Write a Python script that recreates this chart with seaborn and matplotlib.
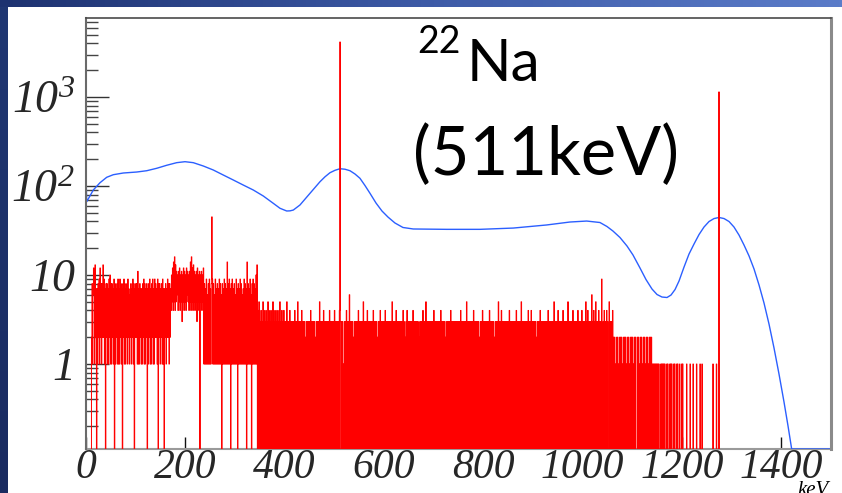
import numpy as np
import pandas as pd
import matplotlib
matplotlib.use("Agg")
import matplotlib.pyplot as plt
from matplotlib.colors import LinearSegmentedColormap
from matplotlib.ticker import LogLocator, NullFormatter, NullLocator
import seaborn as sns

# ---------------------------------------------------------------- axes ranges
x_min_kev, x_max_kev = 0, 1500
y_min, y_max = 0.111, 7720

xtick_values = [0, 200, 400, 600, 800, 1000, 1200, 1400]
xtick_labels = ["0", "200", "400", "600", "800", "1000", "1200", "1400"]
ytick_values = [1, 10, 100, 1000]
ytick_labels = ["1", "10", r"$10^{2}$", r"$10^{3}$"]

# ------------------------------------------------- smooth detector response
response_kev = [0, 1.4, 14.7, 28.2, 41.7, 55.0, 75.1, 102.1, 122.2, 142.3,
                162.5, 182.6, 199.3, 216.0, 236.2, 256.3, 276.4, 296.6, 316.7,
                336.8, 357.0, 377.1, 390.6, 404.1, 410.8, 417.4, 430.8, 451.0,
                471.1, 481.2, 491.2, 501.3, 511.4, 521.4, 531.5, 541.6, 551.6,
                561.7, 571.8, 583.9, 595.9, 608.0, 622.1, 638.2, 658.9, 726.2,
                793.2, 860.3, 927.5, 974.4, 1008.1, 1034.8, 1048.9, 1061.0,
                1075.1, 1089.2, 1101.3, 1115.4, 1127.5, 1139.6, 1149.7, 1159.7,
                1169.8, 1177.9, 1186.0, 1194.0, 1204.1, 1214.1, 1224.2, 1234.3,
                1244.3, 1254.4, 1264.5, 1274.5, 1284.6, 1294.7, 1304.7, 1314.8,
                1324.9, 1334.9, 1345.0, 1355.1, 1365.1, 1375.2, 1385.3, 1395.3,
                1405.4, 1413.5, 1420.8, 1500]
response_counts = [133, 66.6, 90.2, 108.9, 125.3, 134.0, 140.0, 143.6, 148.5,
                   158.1, 171.0, 182.9, 187.6, 182.9, 167.8, 151.3, 132.9,
                   116.8, 102.5, 90.2, 77.2, 63.9, 56.2, 52.4, 52.6, 53.7,
                   61.2, 82.8, 111.7, 126.9, 141.0, 150.1, 156.4, 154.4, 148.5,
                   136.4, 122.1, 101.3, 82.8, 64.4, 52.4, 44.8, 38.4, 34.2,
                   32.9, 32.6, 32.6, 33.7, 36.5, 39.4, 40.4, 38.9, 35.1, 31.2,
                   26.4, 21.2, 16.8, 12.0, 8.90, 6.96, 6.04, 5.66, 5.59, 5.96,
                   6.87, 8.56, 12.3, 17.2, 22.3, 28.5, 34.6, 39.9, 43.1, 44.3,
                   43.1, 39.9, 34.6, 28.1, 21.7, 16.4, 11.7, 7.72, 4.85, 2.81,
                   1.51, 0.772, 0.374, 0.201, 0.110, 0]

# ------------------------------------ measured spectrum, 1 keV per bin
# each segment: (first bin in keV, counts as one base-36 digit per bin)
seg_low = (11, "2816c91d27" "0718291c28" "182d291708" "2817192a18"
               "1827190817" "2819171928" "1708291817" "2819271628"
               "1729180728" "281b171827" "1718291817" "2807182917"
               "1829171928" "2719082817" "2819170728" "1729281827")
seg_bump = (171, "4a5c4e5g4d5b" "6a4b5c4a5b3a" "5c4b5a4c6b5a"
                 "4b5e4g5c4d5b" "4a5b3c4a5b0a" "5b4a5c")
seg_edge = (237, "1817191618" "1917180918" "1619171817" "1918160817"
                 "1918171e18" "1917081917" "1816191708" "1719181617"
                 "1918170e18" "1719160819" "18171a1d0")
seg_plateau = (346,
    "40503040305040304030504030403050403040304030503040"
    "30403030503030403030303040303050303030403030302030"
    "30303040303030302030303050303030403030303030403030"
    "30304030303030403030301030304030306030303020303030"
    "30403030303050303030403030303030403030302030304030"
    "30303040303030303030503030304030303030303040302030"
    "40303030303040303030303020303030403030503030303030"
    "30304030303030303040303030302030303030403030303030"
    "30303030403030303030503030303030304030303030302030"
    "30403030303030304030303030203030305030304030303030"
    "30303040303030303030403030303050303030303030403030"
    "40303030302030303040303030303030304030303030305030"
    "30304030303030403030303050303030304030303030403030"
    "30403030305030403030306030403050303040303090")
seg_fall = (1040, "0304003040300503003040")
seg_step = (1062, "2020102020" "1020202010" "2020201020" "2010202020"
                  "1020200020" "2010202010" "2020102020" "102020201")
seg_tail = (1141, "1010101010" "1010001010" "1010100010" "1000101010"
                  "0010100010" "1000100010" "10")
spectrum_segments = [seg_low, seg_bump, seg_edge, seg_plateau,
                     seg_fall, seg_step, seg_tail]

# isolated single counts above the Compton edge
sparse_kev = [1209, 1216, 1222, 1229, 1236, 1240, 1262, 1269]
sparse_counts = [1, 1, 1, 1, 1, 1, 1, 1]

# narrow lines
line_kev = [253, 511, 1274]
line_counts = [45, 4150, 1140]

counts = np.zeros(x_max_kev)
for start, digits in spectrum_segments:
    vals = [int(c, 36) for c in digits]
    counts[start:start + len(vals)] = vals
counts[sparse_kev] = sparse_counts
counts[line_kev] = line_counts

# ---------------------------------------------------------------- styling
sns.set_style("ticks")
plt.rcParams["mathtext.fontset"] = "custom"
plt.rcParams["mathtext.rm"] = "Liberation Serif:italic"
plt.rcParams["mathtext.it"] = "Liberation Serif:italic"

W, H = 842, 493
fig = plt.figure(figsize=(W / 100, H / 100), dpi=100)
fig.patch.set_facecolor("white")

# slide frame: gradient bars along the top and left edge
top_cmap = LinearSegmentedColormap.from_list("top", ["#1d3270", "#3d5aa6", "#5b7cc9"])
left_cmap = LinearSegmentedColormap.from_list("left", ["#203773", "#1a2b60"])
bar_top = fig.add_axes([0, 1 - 7 / H, 1, 7 / H])
bar_top.imshow(np.linspace(0, 1, 256)[None, :], aspect="auto", cmap=top_cmap)
bar_top.set_axis_off()
bar_left = fig.add_axes([0, 0, 8 / W, 1 - 7 / H])
bar_left.imshow(np.linspace(0, 1, 256)[:, None], aspect="auto", cmap=left_cmap)
bar_left.set_axis_off()

ax = fig.add_axes([86 / W, 1 - 449 / H, (831 - 86) / W, (449 - 18) / H])
ax.set_facecolor("white")
ax.set_yscale("log")

resp = pd.DataFrame({"keV": response_kev,
                     "counts": np.maximum(response_counts, y_min)})
sns.lineplot(data=resp, x="keV", y="counts", ax=ax, color="#2b5fff",
             lw=1.0, estimator=None, sort=False, zorder=2.1)

edges = np.append(np.arange(x_min_kev, x_max_kev), x_max_kev)
hist_counts = np.append(counts, 0)
hist = pd.DataFrame({"keV": edges,
                     "counts": np.where(hist_counts > 0, hist_counts, 1e-3)})
sns.lineplot(data=hist, x="keV", y="counts", ax=ax, color="#ff0000",
             lw=0.7, estimator=None, sort=False, drawstyle="steps-post",
             zorder=2.2)

ax.set_xlim(x_min_kev, x_max_kev)
ax.set_ylim(y_min, y_max)
ax.set_xlabel("")
ax.set_ylabel("")

tick_font = dict(fontfamily="Liberation Serif", fontstyle="italic")
ax.set_xticks(xtick_values, xtick_labels, fontsize=30, **tick_font)
ax.set_yticks(ytick_values, ytick_labels, fontsize=33, **tick_font)
ax.xaxis.set_minor_locator(NullLocator())
ax.yaxis.set_minor_locator(LogLocator(base=10, subs=np.arange(2, 10), numticks=30))
ax.yaxis.set_minor_formatter(NullFormatter())

ax.tick_params(axis="x", which="major", direction="in", length=8.6,
               width=1.0, color="#111111", pad=0, top=False)
ax.tick_params(axis="y", which="major", direction="in", length=16.5,
               width=1.0, color="#333333", pad=8, right=False)
ax.tick_params(axis="y", which="minor", direction="in", length=8.6,
               width=1.0, color="#444444", right=False)

for side, col, lw in [("left", "#6a6a6a", 1.5), ("top", "#4a4a4a", 1.2),
                      ("right", "#8a8a8a", 2.2), ("bottom", "#9a9a9a", 1.5)]:
    ax.spines[side].set_visible(True)
    ax.spines[side].set_color(col)
    ax.spines[side].set_linewidth(lw)
ax.spines["bottom"].set_zorder(2.0)

# unit label at the end of the energy axis
fig.text(829 / W, 1 - 481 / H, "keV", ha="right", va="top", fontsize=15,
         fontfamily="Liberation Serif", fontstyle="italic", color="black")

# source annotation
fig.text(417 / W, 1 - 53 / H, "22", ha="left", va="baseline", fontsize=27,
         fontfamily="Lato", color="black")
fig.text(467 / W, 1 - 81 / H, "Na", ha="left", va="baseline", fontsize=42,
         fontfamily="Lato", color="black")
fig.text(413 / W, 1 - 175 / H, "(511keV)", ha="left", va="baseline",
         fontsize=48, fontfamily="Lato", color="black")

fig.savefig("out.png", dpi=100)
